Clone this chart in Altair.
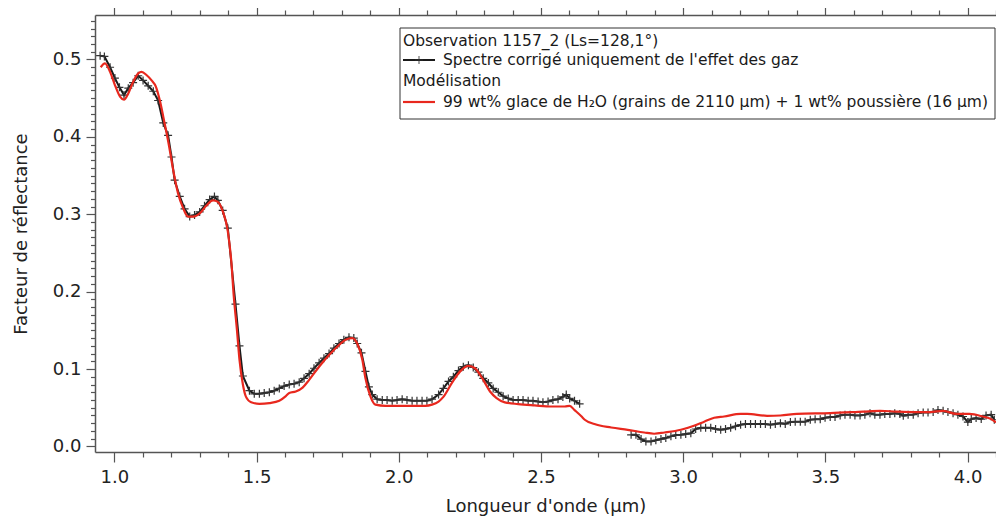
import altair as alt
import pandas as pd

# ---- Observed spectrum (black, with crosses) : two spectral channels ----
obs_c_wl = [0.950, 0.965, 0.985, 1.002, 1.018, 1.034, 1.049, 1.066, 1.084, 1.101,
            1.119, 1.137, 1.154, 1.172, 1.189, 1.201, 1.212, 1.230, 1.247, 1.265,
            1.282, 1.300, 1.317, 1.335, 1.352, 1.364, 1.381, 1.399, 1.426, 1.440,
            1.452, 1.475, 1.492, 1.510, 1.527, 1.545, 1.562, 1.580, 1.597, 1.615,
            1.632, 1.650, 1.667, 1.685, 1.702, 1.720, 1.737, 1.755, 1.772, 1.790,
            1.807, 1.825, 1.842, 1.854, 1.869, 1.883, 1.895, 1.907, 1.924, 1.942,
            1.959, 1.977, 1.994, 2.012, 2.029, 2.047, 2.064, 2.082, 2.099, 2.117,
            2.140, 2.157, 2.175, 2.192, 2.210, 2.227, 2.245, 2.262, 2.280, 2.297,
            2.315, 2.332, 2.350, 2.367, 2.385, 2.402, 2.420, 2.437, 2.455, 2.472,
            2.490, 2.507, 2.525, 2.542, 2.560, 2.577, 2.589, 2.601, 2.618, 2.636]
obs_c_refl = [0.505, 0.504, 0.490, 0.476, 0.464, 0.454, 0.463, 0.470, 0.479, 0.473,
              0.466, 0.459, 0.447, 0.418, 0.402, 0.374, 0.344, 0.323, 0.307, 0.297,
              0.299, 0.303, 0.311, 0.319, 0.323, 0.318, 0.305, 0.282, 0.184, 0.130,
              0.091, 0.072, 0.068, 0.068, 0.069, 0.070, 0.072, 0.075, 0.078, 0.080,
              0.081, 0.083, 0.088, 0.094, 0.101, 0.108, 0.114, 0.120, 0.127, 0.133,
              0.138, 0.141, 0.140, 0.133, 0.121, 0.097, 0.077, 0.067, 0.061, 0.060,
              0.060, 0.059, 0.060, 0.061, 0.060, 0.059, 0.059, 0.059, 0.059, 0.061,
              0.067, 0.075, 0.084, 0.090, 0.098, 0.103, 0.105, 0.102, 0.096, 0.088,
              0.082, 0.075, 0.070, 0.065, 0.062, 0.060, 0.060, 0.060, 0.059, 0.059,
              0.058, 0.057, 0.058, 0.060, 0.061, 0.064, 0.067, 0.062, 0.059, 0.055]

obs_l_wl = [2.817, 2.834, 2.852, 2.869, 2.887, 2.904, 2.922, 2.939, 2.957, 2.974,
            2.992, 3.009, 3.027, 3.044, 3.062, 3.079, 3.097, 3.114, 3.132, 3.149,
            3.167, 3.184, 3.202, 3.219, 3.237, 3.254, 3.272, 3.289, 3.307, 3.324,
            3.342, 3.359, 3.377, 3.394, 3.412, 3.429, 3.447, 3.464, 3.482, 3.499,
            3.517, 3.534, 3.552, 3.569, 3.587, 3.604, 3.622, 3.639, 3.657, 3.674,
            3.692, 3.709, 3.727, 3.744, 3.762, 3.774, 3.791, 3.809, 3.826, 3.844,
            3.861, 3.879, 3.896, 3.914, 3.931, 3.949, 3.966, 3.984, 4.001, 4.013,
            4.030, 4.048, 4.065, 4.083, 4.094]
obs_l_refl = [0.015, 0.015, 0.0095, 0.0065, 0.0065, 0.008, 0.0095, 0.011, 0.013, 0.0147,
              0.015, 0.016, 0.017, 0.0225, 0.024, 0.024, 0.024, 0.0225, 0.0215, 0.0225,
              0.024, 0.026, 0.028, 0.029, 0.029, 0.029, 0.029, 0.029, 0.028, 0.029,
              0.030, 0.029, 0.0315, 0.032, 0.032, 0.032, 0.0345, 0.035, 0.035, 0.037,
              0.038, 0.038, 0.040, 0.041, 0.041, 0.040, 0.040, 0.041, 0.043, 0.041,
              0.041, 0.042, 0.042, 0.043, 0.042, 0.0396, 0.041, 0.041, 0.043, 0.044,
              0.044, 0.0444, 0.047, 0.046, 0.0444, 0.043, 0.041, 0.0387, 0.0315, 0.0353,
              0.0366, 0.0353, 0.040, 0.041, 0.0345]

# ---- Model (red line) ----
model_wl = [0.952, 0.967, 0.985, 1.002, 1.020, 1.034, 1.049, 1.066, 1.084, 1.096,
            1.113, 1.131, 1.146, 1.160, 1.177, 1.193, 1.207, 1.224, 1.242, 1.259,
            1.277, 1.300, 1.323, 1.347, 1.364, 1.381, 1.399, 1.411, 1.420, 1.431,
            1.440, 1.452, 1.463, 1.481, 1.510, 1.545, 1.580, 1.603, 1.615, 1.638,
            1.662, 1.685, 1.720, 1.755, 1.790, 1.813, 1.837, 1.854, 1.872, 1.883,
            1.901, 1.918, 1.953, 2.023, 2.093, 2.117, 2.140, 2.157, 2.187, 2.216,
            2.245, 2.268, 2.297, 2.321, 2.344, 2.373, 2.420, 2.478, 2.537, 2.584,
            2.601, 2.618, 2.642, 2.654, 2.688, 2.747, 2.805, 2.863, 2.898, 2.934,
            2.992, 3.038, 3.074, 3.109, 3.144, 3.202, 3.225, 3.295, 3.342, 3.400,
            3.517, 3.633, 3.692, 3.750, 3.809, 3.867, 3.914, 3.960, 4.007, 4.053,
            4.083, 4.100]
model_refl = [0.490, 0.495, 0.484, 0.467, 0.452, 0.448, 0.456, 0.471, 0.482, 0.484,
              0.480, 0.473, 0.465, 0.447, 0.417, 0.387, 0.357, 0.327, 0.308, 0.297,
              0.297, 0.301, 0.311, 0.318, 0.316, 0.304, 0.278, 0.240, 0.194, 0.151,
              0.112, 0.080, 0.064, 0.057, 0.055, 0.056, 0.059, 0.065, 0.069, 0.071,
              0.076, 0.086, 0.103, 0.118, 0.131, 0.138, 0.140, 0.133, 0.112, 0.088,
              0.064, 0.054, 0.0525, 0.0525, 0.0525, 0.054, 0.058, 0.064, 0.082, 0.097,
              0.104, 0.101, 0.086, 0.071, 0.0625, 0.057, 0.0547, 0.053, 0.0516, 0.0516,
              0.0525, 0.047, 0.039, 0.0345, 0.029, 0.0245, 0.0215, 0.018, 0.0164, 0.018,
              0.0215, 0.0267, 0.032, 0.037, 0.0387, 0.042, 0.042, 0.0396, 0.040, 0.042,
              0.043, 0.045, 0.046, 0.045, 0.0444, 0.0444, 0.046, 0.042, 0.042, 0.0387,
              0.0353, 0.031]

# ---- Axis ticks ----
x_tick_values = [round(1.0 + 0.1 * i, 1) for i in range(32)]      # 1.0 ... 4.1
y_tick_values = [round(0.01 * i, 2) for i in range(56)]           # 0.00 ... 0.55
x_domain = [0.932, 4.100]
y_domain = [-0.0072, 0.5575]

# ---- Legend texts ----
legend_title = "Observation 1157_2 (Ls=128,1°)"
legend_obs = "Spectre corrigé uniquement de l'effet des gaz"
legend_model_header = "Modélisation"
legend_model = "99 wt% glace de H\u2082O (grains de 2110 µm) + 1 wt% poussière (16 µm)"

FONT = "DejaVu Sans"

obs = pd.DataFrame({
    "wl": obs_c_wl + obs_l_wl,
    "refl": obs_c_refl + obs_l_refl,
    "seg": ["C"] * len(obs_c_wl) + ["L"] * len(obs_l_wl),
})
model = pd.DataFrame({"wl": model_wl, "refl": model_refl})
one = pd.DataFrame({"k": [0]})

xs = alt.Scale(domain=x_domain, nice=False, zero=False)
ys = alt.Scale(domain=y_domain, nice=False, zero=False)

x_major_test = "abs(datum.value*2 - round(datum.value*2)) < 0.001"
y_major_test = "abs(datum.value*10 - round(datum.value*10)) < 0.001"

x_bottom = alt.Axis(
    orient="bottom", values=x_tick_values, title="Longueur d'onde (µm)",
    labelExpr=f"({x_major_test}) ? format(datum.value, '.1f') : ''",
    tickSize={"condition": {"test": x_major_test, "value": 10}, "value": 5},
    labelOverlap=False, labelFlush=False, grid=False,
    domainColor="#555555", domainWidth=1.5, tickColor="#555555", tickWidth=1.2,
    labelFont=FONT, labelFontSize=18, labelColor="#222222", labelPadding=6,
    titleFont=FONT, titleFontSize=18, titleFontWeight="normal", titleColor="#222222",
    titlePadding=11,
)
x_top = alt.Axis(
    orient="top", values=x_tick_values, title=None, labels=False,
    tickSize={"condition": {"test": x_major_test, "value": 10}, "value": 5},
    grid=False, domainColor="#555555", domainWidth=1.5, tickColor="#555555", tickWidth=1.2,
)
y_left = alt.Axis(
    orient="left", values=y_tick_values, title="Facteur de réflectance",
    labelExpr=f"({y_major_test}) ? format(datum.value, '.1f') : ''",
    tickSize={"condition": {"test": y_major_test, "value": 9}, "value": 4.5},
    labelOverlap=False, labelFlush=False, grid=False,
    domainColor="#555555", domainWidth=1.5, tickColor="#555555", tickWidth=1.2,
    labelFont=FONT, labelFontSize=18, labelColor="#222222", labelPadding=5,
    titleFont=FONT, titleFontSize=18, titleFontWeight="normal", titleColor="#222222",
    titlePadding=22,
)

black_line = alt.Chart(obs).mark_line(color="#1a1a1a", strokeWidth=2).encode(
    x=alt.X("wl:Q", scale=xs, axis=x_bottom),
    y=alt.Y("refl:Q", scale=ys, axis=y_left),
    detail="seg:N",
)

CROSS = "M-1,0L1,0M0,-1L0,1"
crosses = alt.Chart(obs).mark_point(
    shape=CROSS, size=64, filled=False, color="#333333", strokeWidth=1.2, opacity=1
).encode(
    x=alt.X("wl:Q", scale=xs, axis=None),
    y=alt.Y("refl:Q", scale=ys, axis=None),
)

red_line = alt.Chart(model).mark_line(color="#e8281e", strokeWidth=2.2, interpolate="monotone").encode(
    x=alt.X("wl:Q", scale=xs, axis=x_top),
    y=alt.Y("refl:Q", scale=ys, axis=None),
)

# ---- Legend (box + entries) ----
leg_box = alt.Chart(one).mark_rect(fill="white", stroke="#333333", strokeWidth=1).encode(
    x=alt.value(305), x2=alt.value(900), y=alt.value(13), y2=alt.value(104)
)

def leg_text(txt, x, y):
    return alt.Chart(one).mark_text(
        align="left", baseline="alphabetic", font=FONT, fontSize=15.5, color="#1a1a1a"
    ).encode(x=alt.value(x), y=alt.value(y), text=alt.value(txt))

leg_t1 = leg_text(legend_title, 308, 31)
leg_t2 = leg_text(legend_obs, 348, 50)
leg_t3 = leg_text(legend_model_header, 308, 71)
leg_t4 = leg_text(legend_model, 348, 92)

leg_black = alt.Chart(one).mark_rule(color="#1a1a1a", strokeWidth=2).encode(
    x=alt.value(308), x2=alt.value(340), y=alt.value(45)
)
leg_cross = alt.Chart(one).mark_point(
    shape=CROSS, size=64, filled=False, color="#333333", strokeWidth=1.2
).encode(x=alt.value(324), y=alt.value(45))
leg_red = alt.Chart(one).mark_rule(color="#e8281e", strokeWidth=2.2).encode(
    x=alt.value(308), x2=alt.value(340), y=alt.value(87)
)

chart = alt.layer(
    black_line, crosses, red_line,
    leg_box, leg_t1, leg_black, leg_cross, leg_t2, leg_t3, leg_red, leg_t4,
).resolve_axis(
    x="independent", y="independent"
).properties(
    width=901, height=437,
    autosize=alt.AutoSizeParams(type="none"),
    padding={"left": 87, "top": 7, "right": 0, "bottom": 66},
    background="white",
).configure_view(stroke=None)

chart.save("out.html", embed_options={"renderer": "svg", "actions": False})
